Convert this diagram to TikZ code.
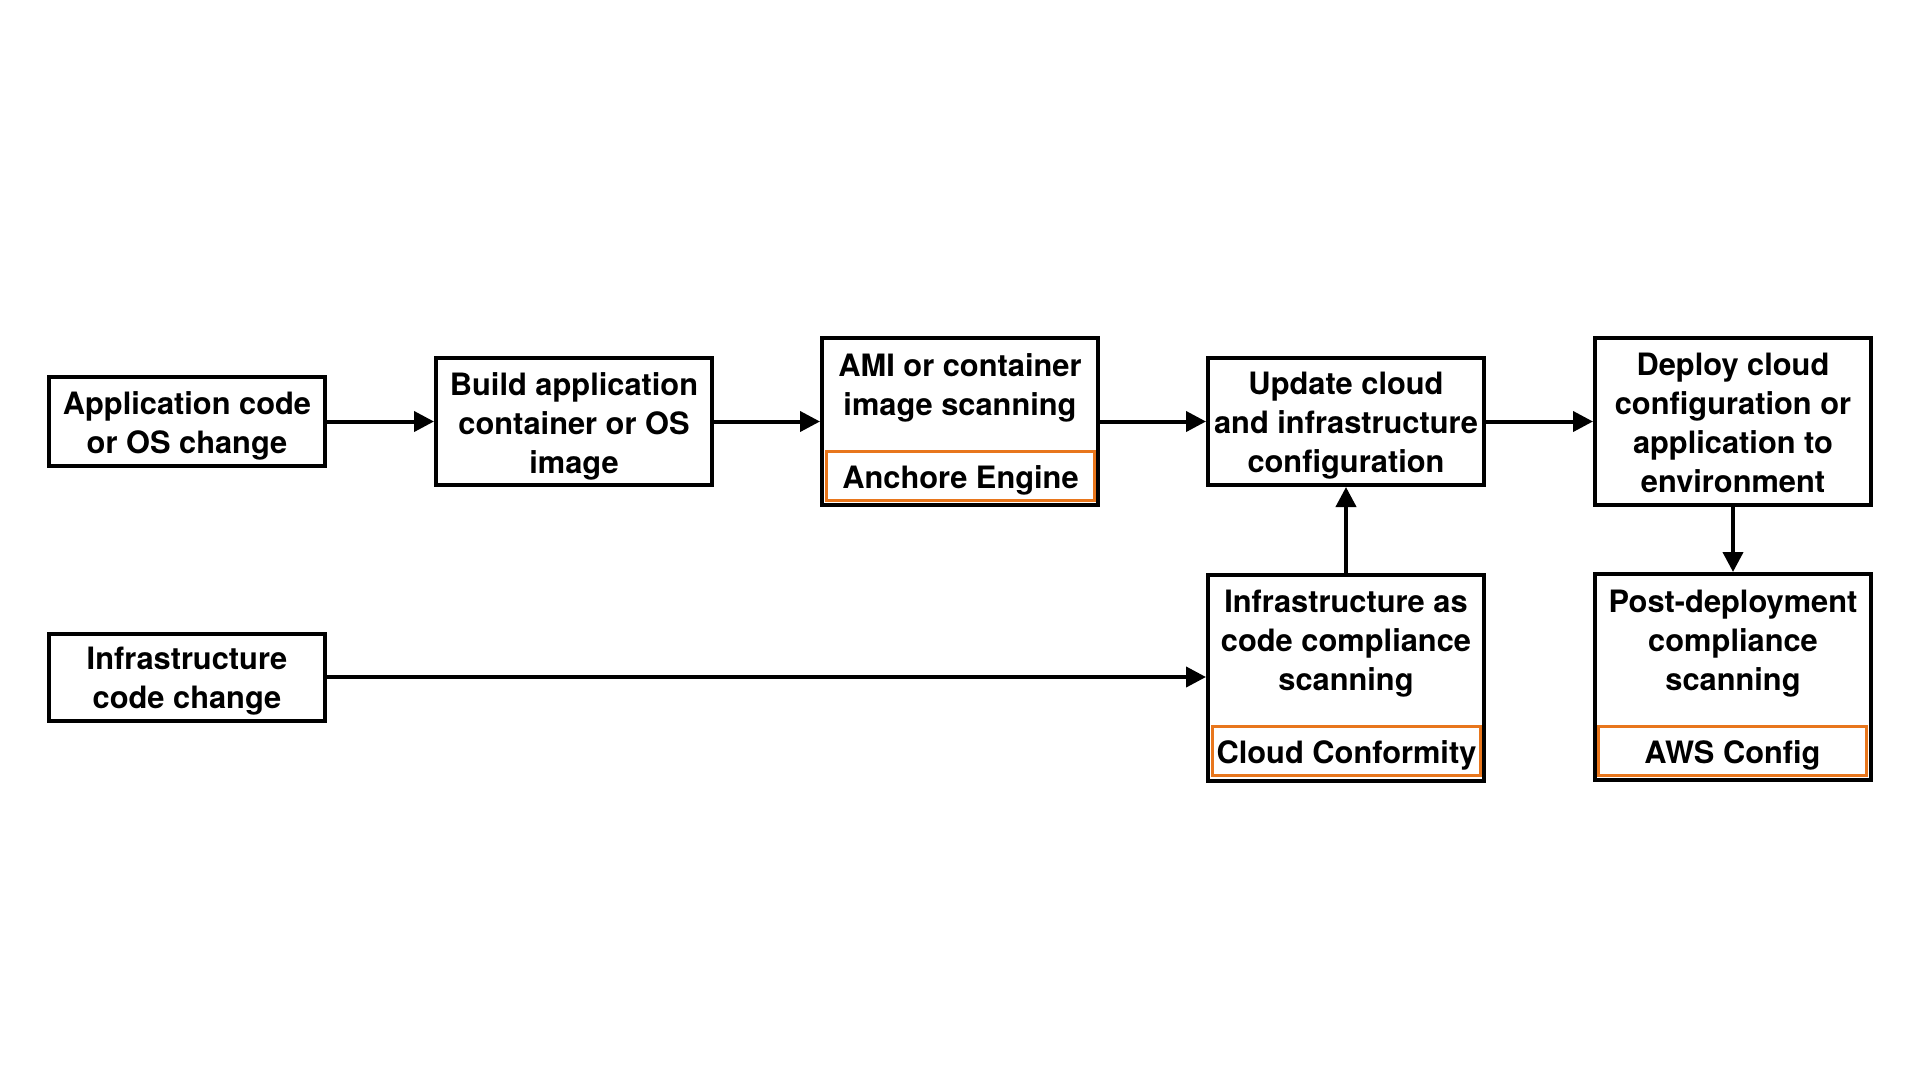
\documentclass[tikz,border=0pt]{standalone}
\usepackage{fontspec}
\setmainfont{TeX Gyre Heros}
\usetikzlibrary{arrows.meta}
\definecolor{orng}{RGB}{232,118,28}
\begin{document}
\begin{tikzpicture}[x=1pt,y=-1pt,
  lbl/.style={font=\fontsize{30.8}{39}\selectfont\bfseries},
  box/.style={draw=black, line width=4pt, fill=white, minimum width=276pt, inner sep=0pt},
  sub/.style={draw=orng, line width=3pt, minimum width=268pt, minimum height=49pt, inner sep=0pt},
  txt/.style={align=center, inner sep=0pt, lbl},
  arr/.style={line width=4pt, -{Triangle[length=20pt,width=20pt]}}]
\fill[white] (0,0) rectangle (1920,1080);
\useasboundingbox (0,0) rectangle (1920,1080);
% row 1
\node[box, minimum height=89pt] (app) at (187,421.5) {};
\node[txt] (appt) at (187,426) {Application code\\or OS change};
\node[box, minimum height=127pt] (build) at (574,421.5) {};
\node[txt] (buildt) at (574,426) {Build application\\container or OS\\image};
\node[box, minimum height=167pt] (ami) at (960,421.5) {};
\node[txt] (amit) at (960,388) {AMI or container\\image scanning};
\node[sub] (anch) at (960.5,475.5) {};
\node[txt] (ancht) at (960.5,480) {Anchore Engine};
\node[box, minimum height=127pt] (upd) at (1346,421.5) {};
\node[txt] (updt) at (1346,426) {Update cloud\\and infrastructure\\configuration};
\node[box, minimum height=167pt] (dep) at (1733,421.5) {};
\node[txt] (dept) at (1733,422.5) {Deploy cloud\\configuration or\\application to\\environment};
% row 2
\node[box, minimum height=87pt] (infra) at (187,677) {};
\node[txt] (infrat) at (187,681.5) {Infrastructure\\code change};
\node[box, minimum height=206pt] (iac) at (1346,678) {};
\node[txt] (iact) at (1346,643.5) {Infrastructure as\\code compliance\\scanning};
\node[sub] (cc) at (1346.5,751) {};
\node[txt] (cct) at (1346.5,755.5) {Cloud Conformity};
\node[box, minimum height=206pt] (post) at (1733,677) {};
\node[txt] (postt) at (1733,643.5) {Post-deployment\\compliance\\scanning};
\node[sub] (aws) at (1732.5,751) {};
\node[txt] (awst) at (1732.5,755.5) {AWS Config};
% connectors
\draw[arr] (app.east) -- (build.west);
\draw[arr] (build.east) -- (ami.west);
\draw[arr] (ami.east) -- (upd.west);
\draw[arr] (upd.east) -- (dep.west);
\draw[arr] (iac.north) -- (upd.south);
\draw[arr] (dep.south) -- (post.north);
\draw[arr] (infra.east) -- (iac.west |- infra.east);
\end{tikzpicture}
\end{document}
